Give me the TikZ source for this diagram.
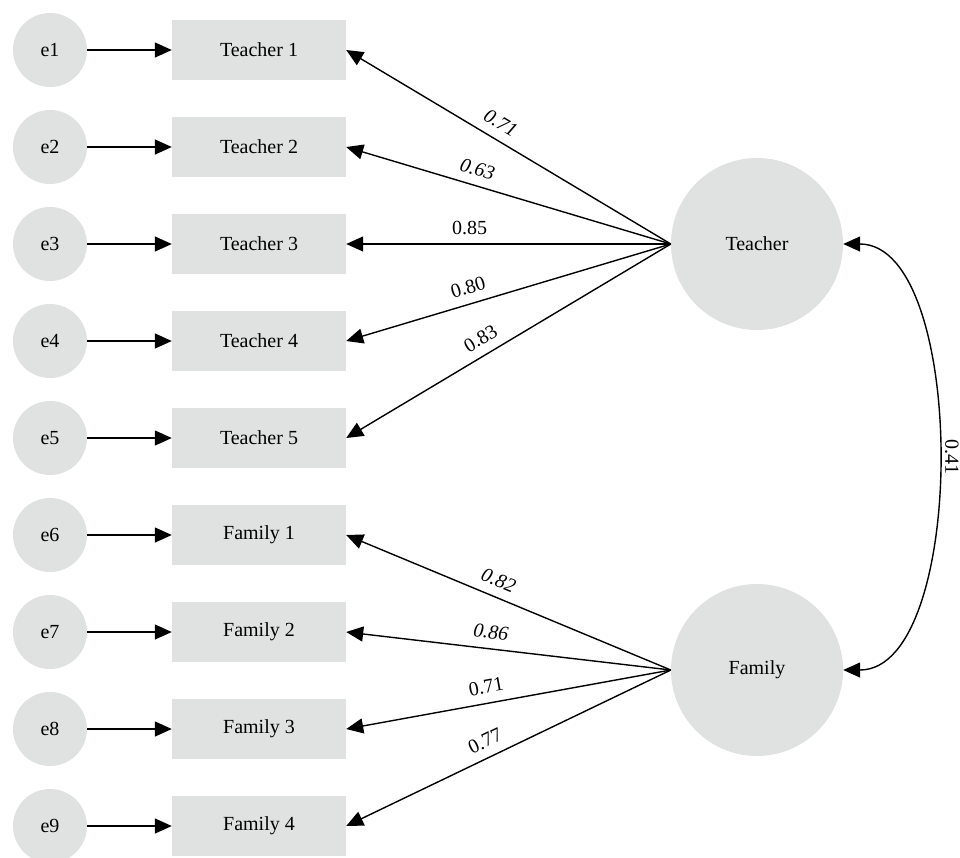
\documentclass[tikz,border=0pt]{standalone}
\usepackage{fontspec}
\setmainfont{Liberation Serif}
\usetikzlibrary{arrows.meta}
\definecolor{nodegray}{RGB}{224,225,225}
\tikzset{
  err/.style={circle, fill=nodegray, draw=none, minimum size=74pt, inner sep=0pt, font=\fontsize{20}{24}\selectfont},
  obs/.style={rectangle, fill=nodegray, draw=none, minimum width=174pt, minimum height=60pt, inner sep=0pt, font=\fontsize{20}{24}\selectfont},
  lat/.style={circle, fill=nodegray, draw=none, minimum size=172pt, inner sep=0pt, font=\fontsize{20}{24}\selectfont},
  con/.style={line width=1.4pt, -{Triangle[length=17pt,width=15pt]}},
  dcon/.style={line width=1.4pt, {Triangle[length=17pt,width=15pt]}-{Triangle[length=17pt,width=15pt]}},
  lab/.style={font=\fontsize{20}{24}\selectfont, inner sep=2pt, sloped, above=7pt},
  corlab/.style={font=\fontsize{20}{24}\selectfont, inner sep=0pt, rotate=-90, anchor=south},
}
\begin{document}
\begin{tikzpicture}[x=1pt,y=-1pt]
\useasboundingbox (0,0) rectangle (960,857);
\foreach \i/\t [count=\k] in {1/Teacher 1,2/Teacher 2,3/Teacher 3,4/Teacher 4,5/Teacher 5,6/Family 1,7/Family 2,8/Family 3,9/Family 4}{
  \node[err] (e\i) at (50,{50+97*(\i-1)}) {e\i};
  \node[obs] (o\i) at (259,{50+97*(\i-1)}) {\t};
  \draw[con] (e\i.east) -- (o\i.west);
}
\node[lat] (T) at (757,244) {Teacher};
\node[lat] (F) at (757,670) {Family};
\draw[con] (T.west) -- node[lab, pos=0.55] {\itshape 0.71} (o1.east);
\draw[con] (T.west) -- node[lab, pos=0.61] {\itshape 0.63} (o2.east);
\draw[con] (T.west) -- node[lab, pos=0.62] {0.85} (o3.east);
\draw[con] (T.west) -- node[lab, pos=0.61] {0.80} (o4.east);
\draw[con] (T.west) -- node[lab, pos=0.56] {0.83} (o5.east);
\draw[con] (F.west) -- node[lab, pos=0.55] {\itshape 0.82} (o6.east);
\draw[con] (F.west) -- node[lab, pos=0.56] {\itshape 0.86} (o7.east);
\draw[con] (F.west) -- node[lab, pos=0.56] {0.71} (o8.east);
\draw[con] (F.west) -- node[lab, pos=0.55] {0.77} (o9.east);
\draw[dcon] (T.east) .. controls +(125,0) and +(125,0) .. coordinate[midway] (mid) (F.east);
\node[corlab] (r41) at ([xshift=8pt]mid) {0.41};
\end{tikzpicture}
\end{document}
